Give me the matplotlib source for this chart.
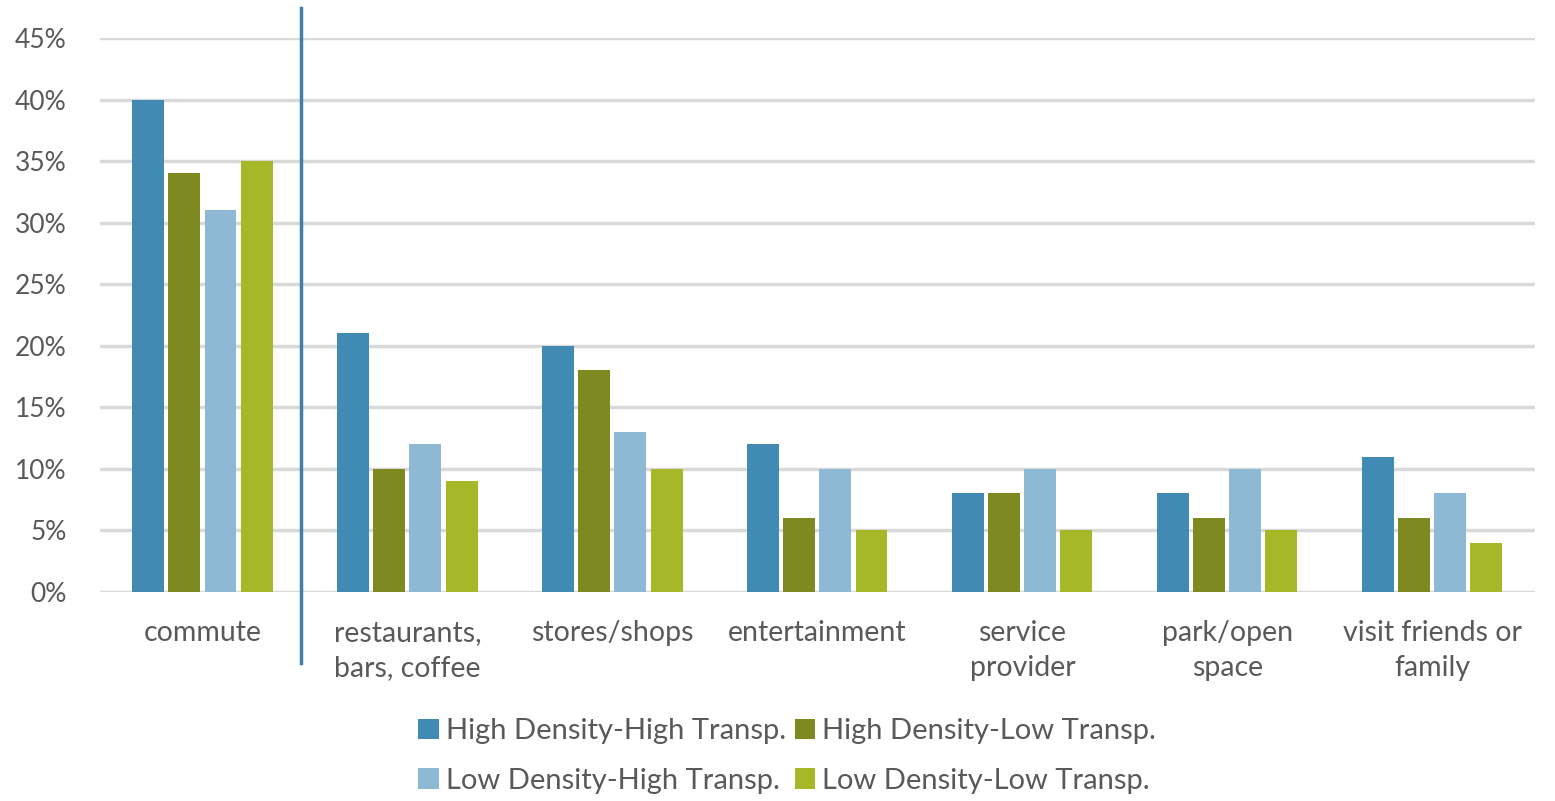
import numpy as np
import matplotlib.pyplot as plt
from matplotlib.ticker import PercentFormatter

categories = ['commute', 'restaurants,\nbars, coffee', 'stores/shops', 'entertainment',
              'service\nprovider', 'park/open\nspace', 'visit friends or\nfamily']
series = ['High Density-High Transp.', 'High Density-Low Transp.',
          'Low Density-High Transp.', 'Low Density-Low Transp.']
hd_ht = [40, 21, 20, 12, 8, 8, 11]
hd_lt = [34, 10, 18, 6, 8, 6, 6]
ld_ht = [31, 12, 13, 10, 10, 10, 8]
ld_lt = [35, 9, 10, 5, 5, 5, 4]
colors = ['#418AB3', '#7E891F', '#8DB9D5', '#A6B727']

plt.rcParams['font.family'] = ['Lato', 'DejaVu Sans']
text_color = '#595959'

fig = plt.figure(figsize=(15.55, 8.01), dpi=100)
ax = fig.add_axes([0.0643, 0.261, 0.9227, 0.6916])

x = np.arange(len(categories))
pitch = 0.176
width = 0.156
bars = []
for i, (vals, name) in enumerate(zip([hd_ht, hd_lt, ld_ht, ld_lt], series)):
    b = ax.bar(x + (i - 1.5) * pitch, np.array(vals) / 100, width, color=colors[i],
               label=name, zorder=3)
    bars.append(b)

ax.set_xlim(-0.5, len(categories) - 0.5)
ax.set_ylim(0, 0.45)
ax.set_yticks(np.arange(0, 0.451, 0.05))
ax.yaxis.set_major_formatter(PercentFormatter(1.0, decimals=0))
ax.grid(axis='y', color='#d9d9d9', linewidth=2.5, zorder=0)
for s in ax.spines.values():
    s.set_visible(False)
ax.tick_params(axis='both', length=0, colors=text_color)
ax.tick_params(axis='y', pad=24, labelsize=19)
ax.tick_params(axis='x', pad=20, labelsize=20.5)
ax.set_xticks(x)
ax.set_xticklabels(categories, linespacing=1.45)

# separator between commute and the other trip purposes
ax.plot([0.48, 0.48], [-0.128, 1.054], transform=ax.get_xaxis_transform(),
        color='#3F7FA9', linewidth=2.5, clip_on=False)

# legend filled row by row
order = [0, 2, 1, 3]
leg = ax.legend([bars[i] for i in order], [series[i] for i in order],
                loc='center', bbox_to_anchor=(0.479, -0.296), ncol=2, frameon=False,
                fontsize=21, handlelength=0.7, handleheight=0.7, handletextpad=0.25,
                columnspacing=0.3, labelspacing=0.8)
for t in leg.get_texts():
    t.set_color(text_color)

fig.savefig('out.png', dpi=100)
